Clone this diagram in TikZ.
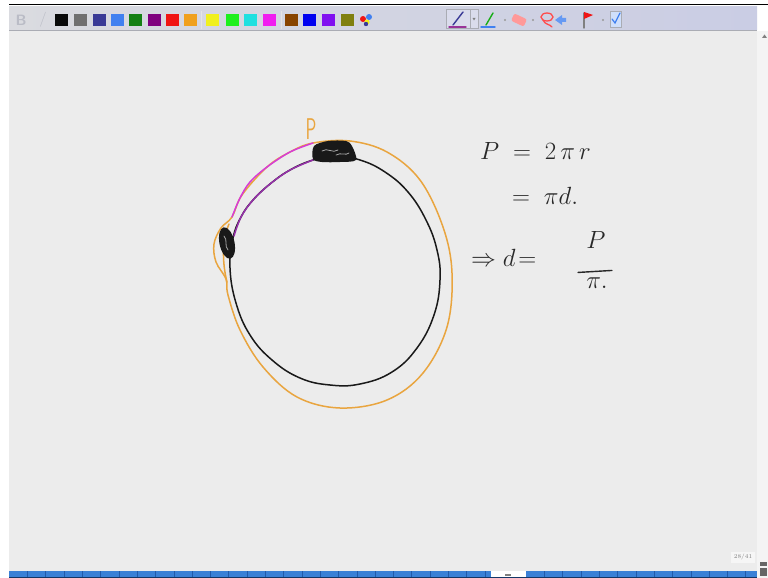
\documentclass[tikz,border=0pt]{standalone}
\usepackage{tikz}
\usetikzlibrary{positioning,calc}
\definecolor{canvasgrey}{RGB}{236,236,236}
\definecolor{barleft}{RGB}{218,219,224}
\definecolor{barright}{RGB}{202,205,228}
\definecolor{barline}{RGB}{170,172,180}
\definecolor{scrollbg}{RGB}{244,244,244}
\definecolor{barblue}{RGB}{58,128,214}
\definecolor{barsep}{RGB}{34,90,170}
\definecolor{faintgrey}{RGB}{186,188,198}
\definecolor{swblack}{RGB}{10,10,10}
\definecolor{swgrey}{RGB}{112,112,112}
\definecolor{swnavy}{RGB}{58,58,150}
\definecolor{swblue}{RGB}{64,128,240}
\definecolor{swgreen}{RGB}{20,128,20}
\definecolor{swpurple}{RGB}{128,0,128}
\definecolor{swred}{RGB}{240,20,20}
\definecolor{sworange}{RGB}{240,160,30}
\definecolor{swyellow}{RGB}{240,240,30}
\definecolor{swlime}{RGB}{30,240,30}
\definecolor{swcyan}{RGB}{30,224,224}
\definecolor{swmagenta}{RGB}{240,30,240}
\definecolor{swbrown}{RGB}{136,68,0}
\definecolor{swdeepblue}{RGB}{0,0,240}
\definecolor{swviolet}{RGB}{128,16,240}
\definecolor{swolive}{RGB}{128,128,16}
\definecolor{inkblack}{RGB}{25,25,25}
\definecolor{inkgrey}{RGB}{40,40,40}
\definecolor{inkorange}{RGB}{233,165,63}
\definecolor{inkmagenta}{RGB}{214,60,214}
\definecolor{inkplum}{RGB}{150,48,170}
\definecolor{pagebox}{RGB}{246,246,246}
\tikzset{
  ink/.style={line width=1.5pt, line cap=round, line join=round},
  blackink/.style={ink, draw=inkblack},
  orangeink/.style={ink, draw=inkorange},
  magentaink/.style={ink, draw=inkmagenta},
  plumink/.style={ink, draw=inkplum},
  scribble/.style={line width=0.8pt, draw=gray!70, line cap=round},
  hand/.style={font=\fontsize{26}{30}\selectfont, text=inkgrey, inner sep=0pt},
  toolicon/.style={line width=1.4pt, line cap=round},
  tooldot/.style={fill=gray!80},
}

\begin{document}
\begin{tikzpicture}[x=1pt,y=-1pt]
  \useasboundingbox (0,0) rectangle (768,578);
  \fill[white] (0,0) rectangle (768,578);
  \fill[canvasgrey] (9,31) rectangle (757,571);
  \shade[left color=barleft, right color=barright] (9,7) rectangle (757,30);
  \draw[black, line width=1.5pt] (9,4.5) -- (768,4.5);
  \draw[barline] (9,30.5) -- (757,30.5);
  \fill[scrollbg] (757,31) rectangle (768,578);

  \node[font=\sffamily\bfseries\fontsize{15}{15}\selectfont, text=faintgrey] (boldbtn) at (21,20) {B};
  \node[font=\sffamily\fontsize{15}{15}\selectfont, text=faintgrey] (italbtn) at (43,20) {/};
  \foreach \x/\c in {55/swblack,74/swgrey,93/swnavy,111/swblue,129/swgreen,148/swpurple,166/swred,184/sworange,
                     206/swyellow,226/swlime,244/swcyan,263/swmagenta,285/swbrown,303/swdeepblue,322/swviolet,341/swolive}{
    \fill[\c] (\x,14) rectangle ++(13,12);
  }
  \foreach \x in {201.5,281.5}{\draw[white!80!gray] (\x,11) -- (\x,29);}
  \fill[swred] (363,19) circle (3);
  \fill[swblue] (369,17) circle (3);
  \fill[swyellow] (367,22) circle (2.5);
  \fill[swnavy] (366,24) circle (2.2);

  \draw[fill=barright!70!white, draw=barline] (446,9) rectangle (470,28);
  \draw[fill=barright!70!white, draw=barline] (470,9) rectangle (478,28);
  \fill[gray] (472.5,18) -- (475.5,18) -- (474,20.5) -- cycle;
  \draw[toolicon, draw=swnavy] (453,25) -- (463,12);
  \draw[toolicon, draw=swpurple!80] (449,27) -- (466,27);
  \draw[toolicon, draw=swgreen!60!swlime] (486,25) -- (493,13);
  \draw[toolicon, draw=swblue] (481,27) -- (495,27);
  \fill[tooldot] (505,20) circle (1.2);
  \fill[pink!80!red, rounded corners=2pt, rotate around={-25:(519,20)}] (512,16) rectangle (526,24);
  \fill[tooldot] (533,20) circle (1.2);
  \draw[toolicon, draw=red!70, line width=1.3pt] (547,17) ellipse (6 and 4);
  \draw[toolicon, draw=red!70, line width=1.3pt] (543,20) .. controls (545,25) and (550,24) .. (552,27);
  \fill[swblue!80] (555,20) -- (562,15) -- (562,18) -- (566,18) -- (566,22) -- (562,22) -- (562,25) -- cycle;
  \draw[toolicon, draw=gray] (584,13) -- (584,28);
  \fill[swred] (584,12) -- (593,15) -- (584,19) -- cycle;
  \fill[tooldot] (603,20) circle (1.2);
  \draw[fill=swblue!25, draw=barline] (610,11) rectangle (621,27);
  \draw[toolicon, draw=swblue, line width=1.2pt] (612,19) -- (615,23) -- (620,13);
  \fill[gray] (762,38) -- (764.5,34.5) -- (767,38) -- cycle;

  % drawing
  \draw[orangeink] plot[smooth cycle, tension=0.6] coordinates {
    (313,143) (350,141) (387,152) (420,180) (443,227) (452,273) (447,327) (423,373) (387,400)
    (340,408) (297,397) (263,367) (240,330) (228,295) (226,279) (216,262) (214,244) (221,228)
    (232,217) (242,195) (267,167) (290,152)};
  \draw[orangeink] (229,224) .. controls (222,240) and (222,262) .. (227,282);
  \draw[blackink] plot[smooth cycle, tension=0.7] coordinates {
    (313,160) (335,156) (360,160) (385,172) (408,192) (426,220) (437,250) (440,280) (434,315)
    (417,348) (392,372) (360,384) (330,385) (300,378) (272,360) (250,335) (236,303) (230,268)
    (233,238) (241,217) (253,200) (270,184) (290,170)};
  \draw[magentaink] plot[smooth, tension=0.55] coordinates {(313,143) (290,152) (267,167) (250,182) (240,198) (232,217)};
  \draw[plumink] plot[smooth, tension=0.55] coordinates {(313,160) (290,170) (270,184) (253,200) (241,217) (234,236)};
  \fill[inkblack] plot[smooth cycle, tension=0.5] coordinates {
    (314,146) (328,141) (346,141) (352,146) (356,160) (340,162) (322,162) (313,159)};
  \draw[scribble] (322,151) .. controls (327,147) and (333,154) .. (338,150);
  \draw[scribble] (336,155) .. controls (341,152) and (346,156) .. (349,153);
  \fill[inkblack, rotate around={12:(227,243)}] (227,243) ellipse (7.5 and 16);
  \draw[scribble] (224,236) .. controls (228,240) and (224,246) .. (228,250);

  \node[font=\sffamily\fontsize{30}{30}\selectfont, text=inkorange, xscale=0.6, inner sep=0pt] (plabel) at (311,129) {P};

  \node[hand, anchor=west] (perim) at (480,151) {$P \;=\; 2\,\pi\, r$};
  \node[hand, anchor=west] (pidiam) at (512,196) {$= \;\pi d.$};
  \node[hand, anchor=west] (dline) at (471,258) {$\Rightarrow d \!=$};
  \node[hand] (fracnum) at (596,240) {$P$};
  \node[hand] (fracden) at (597,283) {$\pi.$};
  \draw[line width=1.4pt, draw=inkgrey, line cap=round] ($(fracden.north west)+(-8,-5)$) -- ($(fracden.north east)+(4,-7)$);

  \node[font=\fontsize{6}{6}\selectfont, text=gray, fill=pagebox, inner sep=2.5pt] (pagenum) at (743,557) {28/41};

  \fill[barblue] (9,571) rectangle (491,578);
  \fill[barblue] (526,571) rectangle (757,578);
  \foreach \i in {1,...,26}{\draw[barsep] ({9+18.3*\i},571) -- ++(0,7);}
  \foreach \i in {1,...,12}{\draw[barsep] ({526+18.3*\i},571) -- ++(0,7);}
  \draw[barsep!60!black] (9,577.5) -- (757,577.5);
  \fill[gray] (505,574) rectangle (511,576);
  \fill[gray!80!black] (760,562) rectangle (767,566);
  \fill[gray!80!black] (760,568) rectangle (767,576);
\end{tikzpicture}
\end{document}
